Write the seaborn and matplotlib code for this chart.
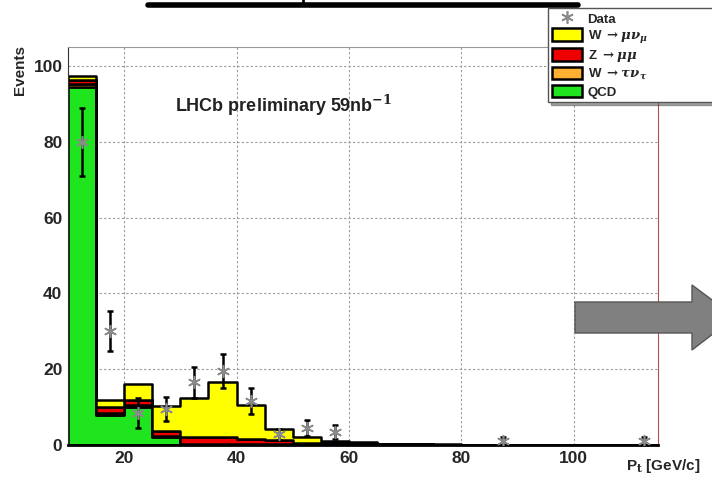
import numpy as np
import pandas as pd
import matplotlib
matplotlib.use("Agg")
import matplotlib.pyplot as plt
from matplotlib.patches import Patch, Polygon
from matplotlib.lines import Line2D
from matplotlib.ticker import MultipleLocator
import seaborn as sns

# ---------------- data ----------------
bin_edges = list(range(10, 120, 5))            # 10..115
bin_centers = [e + 2.5 for e in bin_edges[:-1]]

qcd   = [94.5, 8.0, 10.0, 2.0, 0, 0, 0, 0, 0, 0, 0, 0, 0, 0, 0, 0, 0, 0, 0, 0, 0]
wtau  = [0.8, 0.5, 0.5, 0.3, 0.2, 0.2, 0.2, 0.2, 0.1, 0.1, 0.1, 0.05, 0.05, 0, 0, 0, 0, 0, 0, 0, 0]
zmumu = [1.0, 1.5, 1.5, 1.5, 2.0, 2.0, 1.5, 1.0, 0.5, 0.5, 0.3, 0.1, 0.1, 0.1, 0.05, 0, 0, 0, 0, 0, 0]
wmunu = [1.0, 2.0, 4.0, 6.5, 10.3, 14.3, 8.8, 3.0, 1.5, 0.5, 0.3, 0.15, 0.1, 0.1, 0.05, 0.05, 0, 0, 0, 0, 0]

data_x   = [12.5, 17.5, 22.5, 27.5, 32.5, 37.5, 42.5, 47.5, 52.5, 57.5, 87.5, 112.5]
data_y   = [80, 30, 8.5, 9.5, 16.5, 19.5, 11.7, 2.8, 4.5, 3.5, 1, 1]
data_err = [9, 5.3, 4, 3.1, 4.1, 4.5, 3.4, 1.5, 2.1, 1.9, 1, 1]

proc_labels = ["W \u2192 \u03bc\u03bd", "Z \u2192 \u03bc\u03bc", "W \u2192 \u03c4\u03bd", "QCD"]
legend_labels = [r"W $\rightarrow \mu\nu_\mu$", r"Z $\rightarrow \mu\mu$",
                 r"W $\rightarrow \tau\nu_\tau$", "QCD"]
proc_colors = ["#ffff00", "#ee0000", "#ffb030", "#1fe51f"]

rows = []
for lab, vals in zip(proc_labels, [wmunu, zmumu, wtau, qcd]):
    for c, v in zip(bin_centers, vals):
        rows.append({"pt": c, "w": v, "proc": lab})
df = pd.DataFrame(rows)

# ---------------- figure ----------------
sns.set_style("white")
plt.rcParams["font.family"] = ["Liberation Sans", "DejaVu Sans"]
plt.rcParams["font.weight"] = "bold"
plt.rcParams["mathtext.fontset"] = "dejavuserif"

fig = plt.figure(figsize=(7.12, 4.8), dpi=100)
ax = fig.add_axes([68/712, 1-445/480, (658-68)/712, (445-47)/480])

sns.histplot(data=df, x="pt", weights="w", hue="proc", hue_order=proc_labels,
             multiple="stack", bins=bin_edges, palette=proc_colors,
             element="step", fill=True,
             edgecolor="black", linewidth=1.8, alpha=1, legend=False, ax=ax)

ax.errorbar(data_x, data_y, yerr=data_err, fmt="none", ecolor="black",
            elinewidth=1.8, capsize=2.5, capthick=1.8, zorder=5)
sns.scatterplot(x=data_x, y=data_y, marker=(6, 2, 0), s=70, color="#8a8a8a",
                linewidth=1.2, edgecolor="#8a8a8a", zorder=6, ax=ax, legend=False)

ax.set_xlim(10, 115)
ax.set_ylim(0, 105)
ax.set_xlabel("")
ax.set_ylabel("")
ax.xaxis.set_major_locator(MultipleLocator(20))
ax.xaxis.set_minor_locator(MultipleLocator(5))
ax.yaxis.set_major_locator(MultipleLocator(20))
ax.yaxis.set_minor_locator(MultipleLocator(5))
ax.tick_params(which="major", direction="in", length=8, width=1, labelsize=12.5, pad=4)
ax.tick_params(which="minor", direction="in", length=4, width=1)
ax.set_xticks([20, 40, 60, 80, 100])
for t in ax.get_xticklabels() + ax.get_yticklabels():
    t.set_fontweight("bold")
ax.grid(True, which="major", linestyle=(0, (2, 2)), color="#9a9a9a", linewidth=0.8)
ax.set_axisbelow(True)

ax.spines["left"].set_color("#333333")
ax.spines["top"].set_color("#999999")
ax.spines["right"].set_color("#b05050")
ax.spines["bottom"].set_color("black")
ax.spines["bottom"].set_linewidth(2)

ax.text(29, 89.5, r"LHCb preliminary 59nb$^{\mathbf{-1}}$", fontsize=13,
        fontweight="bold", color="#222222", va="center", ha="left")

fig.text(20/712, 1-45/480, "Events", rotation=90, ha="center", va="top",
         fontsize=11, fontweight="bold")
fig.text(700/712, 1-466/480, r"P$_{\mathbf{t}}$ [GeV/c]", ha="right", va="center",
         fontsize=11, fontweight="bold")

# legend
handles = [Line2D([], [], linestyle="none", marker=(6, 2, 0), markersize=9,
                  color="#8a8a8a", markeredgewidth=1.2)]
for col in proc_colors:
    handles.append(Patch(facecolor=col, edgecolor="black", linewidth=1.8))
leg = ax.legend(handles, ["Data"] + legend_labels, loc="upper left",
                bbox_to_anchor=(548/712, 1-105/480, 200/712, 97/480),
                bbox_transform=fig.transFigure, mode="expand",
                fancybox=False, shadow=True, framealpha=1, edgecolor="#555555",
                fontsize=9.5, labelspacing=0.2, handlelength=2.3, handleheight=1.1,
                borderpad=0.3, handletextpad=0.4, borderaxespad=0)
for t in leg.get_texts():
    t.set_fontweight("bold")

# decorations from the slide
fig.add_artist(Line2D([148/712, 578/712], [1-5/480, 1-5/480], color="black",
                      linewidth=4, transform=fig.transFigure))
fig.add_artist(Line2D([303/712, 303/712], [1-5/480, 1.0], color="black",
                      linewidth=2, transform=fig.transFigure))
arrow_px = [(575, 302), (692, 302), (692, 285), (735, 317), (692, 350), (692, 333), (575, 333)]
fig.add_artist(Polygon([(x/712, 1-y/480) for x, y in arrow_px], closed=True,
                       facecolor="#808080", edgecolor="#555555", linewidth=1,
                       transform=fig.transFigure))

fig.savefig("out.png", dpi=100)
